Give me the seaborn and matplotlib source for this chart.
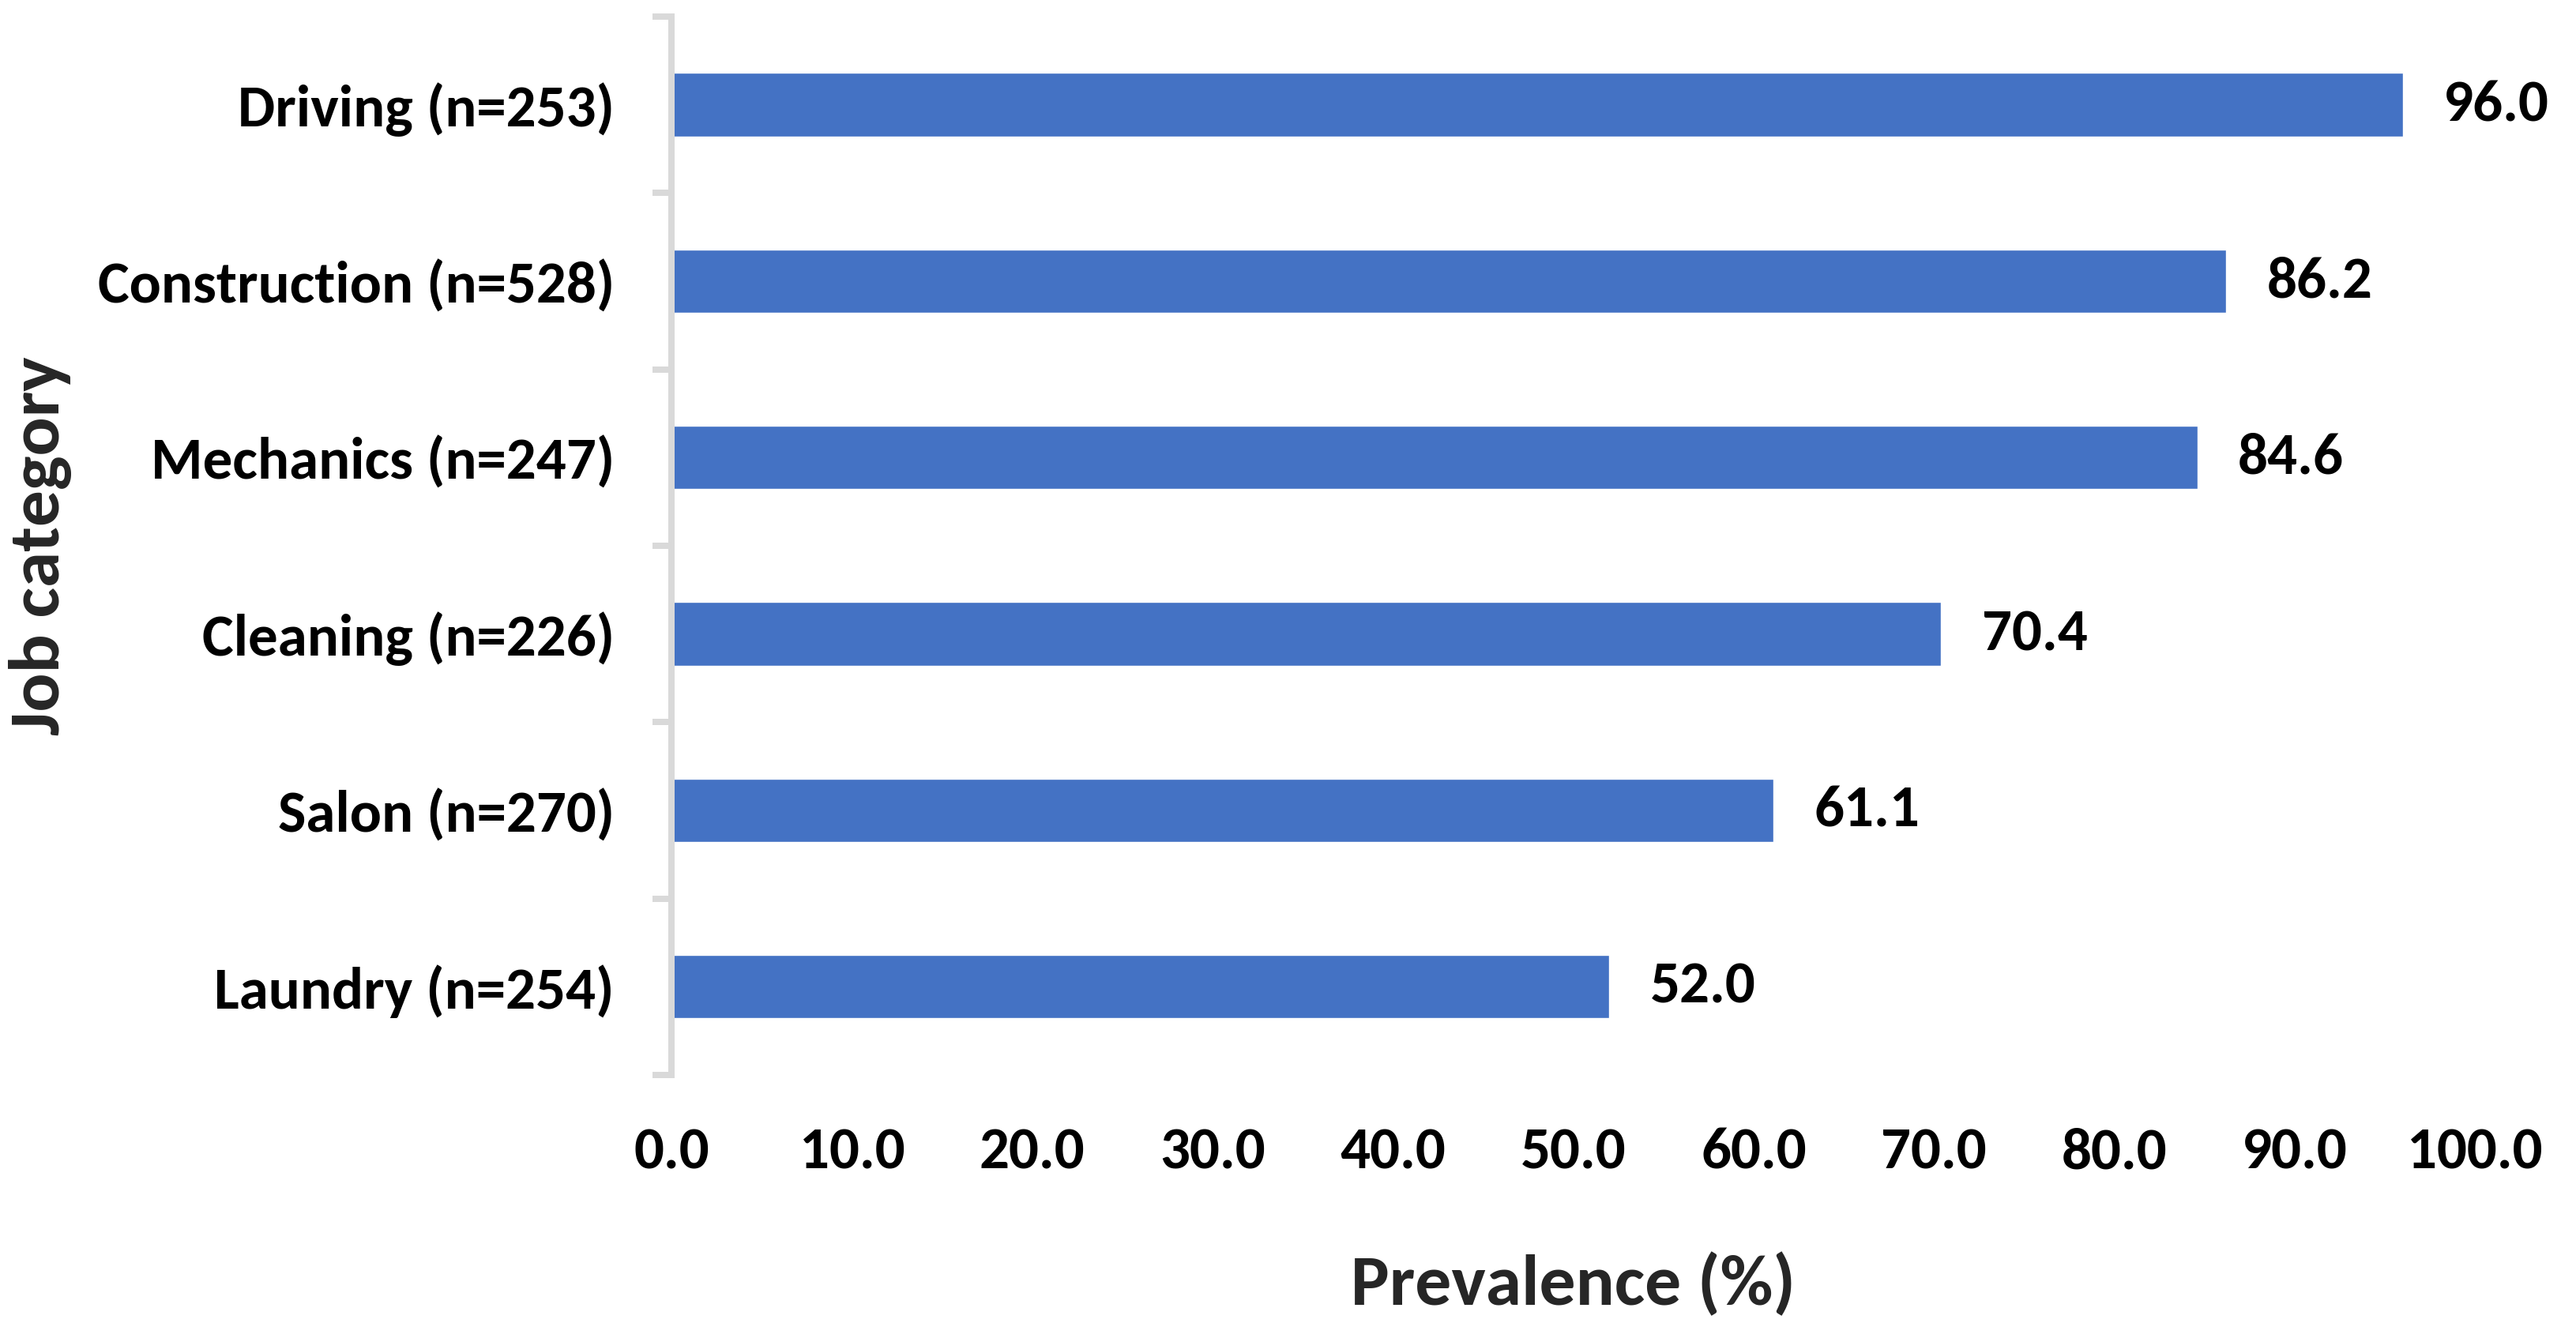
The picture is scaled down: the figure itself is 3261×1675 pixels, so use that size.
import matplotlib
matplotlib.use("Agg")
import matplotlib.pyplot as plt
import seaborn as sns
import pandas as pd
import numpy as np

# Chart values
categories = ["Driving (n=253)", "Construction (n=528)", "Mechanics (n=247)",
              "Cleaning (n=226)", "Salon (n=270)", "Laundry (n=254)"]
prevalence = [96.0, 86.2, 84.6, 70.4, 61.1, 52.0]
x_ticks = [0, 10, 20, 30, 40, 50, 60, 70, 80, 90, 100]

BAR_COLOR = "#4472C4"
AXIS_GRAY = "#D9D9D9"

sns.set_theme(style="white")
# Carlito is metric compatible with Calibri
plt.rcParams['font.family'] = ['Carlito', 'Barlow Semi Condensed', 'DejaVu Sans']
plt.rcParams['font.weight'] = 'bold'
plt.rcParams['text.color'] = 'black'
plt.rcParams['xtick.color'] = 'black'
plt.rcParams['ytick.color'] = 'black'

df = pd.DataFrame({"category": categories, "prevalence": prevalence})

fig = plt.figure(figsize=(32.62, 16.75), dpi=100)
ax = fig.add_axes([0.2606, 0.1875, 0.6999, 0.8])

sns.barplot(data=df, x="prevalence", y="category", orient="h",
            color=BAR_COLOR, saturation=1, width=0.36, ax=ax)

# value labels at the end of each bar
ax.bar_label(ax.containers[0], fmt="%.1f", padding=37, fontsize=54, fontweight="bold")

ax.set_xlim(0, 100)
ax.set_ylim(len(categories) - 0.5, -0.5)
ax.set_xticks(x_ticks)
ax.set_xticklabels([f"{t:.1f}" for t in x_ticks])

# y spine and boundary ticks like Excel
for side in ["top", "right", "bottom"]:
    ax.spines[side].set_visible(False)
ax.spines["left"].set_color(AXIS_GRAY)
ax.spines["left"].set_linewidth(5.76)
ax.set_yticks(np.arange(-0.5, len(categories)), minor=True)
ax.tick_params(axis="y", which="minor", length=17, width=5.76, color=AXIS_GRAY, left=True)
ax.tick_params(axis="y", which="major", length=0, pad=52, labelsize=54)
ax.tick_params(axis="x", which="major", length=0, pad=47, labelsize=54)

ax.set_xlabel("Prevalence (%)", fontsize=66, fontweight="bold", va="center")
ax.set_ylabel("Job category", fontsize=66, fontweight="bold", va="center")
ax.xaxis.set_label_coords(0.5, -0.198)
ax.yaxis.set_label_coords(-0.350, 0.5)

fig.savefig("out.png", dpi=100, facecolor="white")
